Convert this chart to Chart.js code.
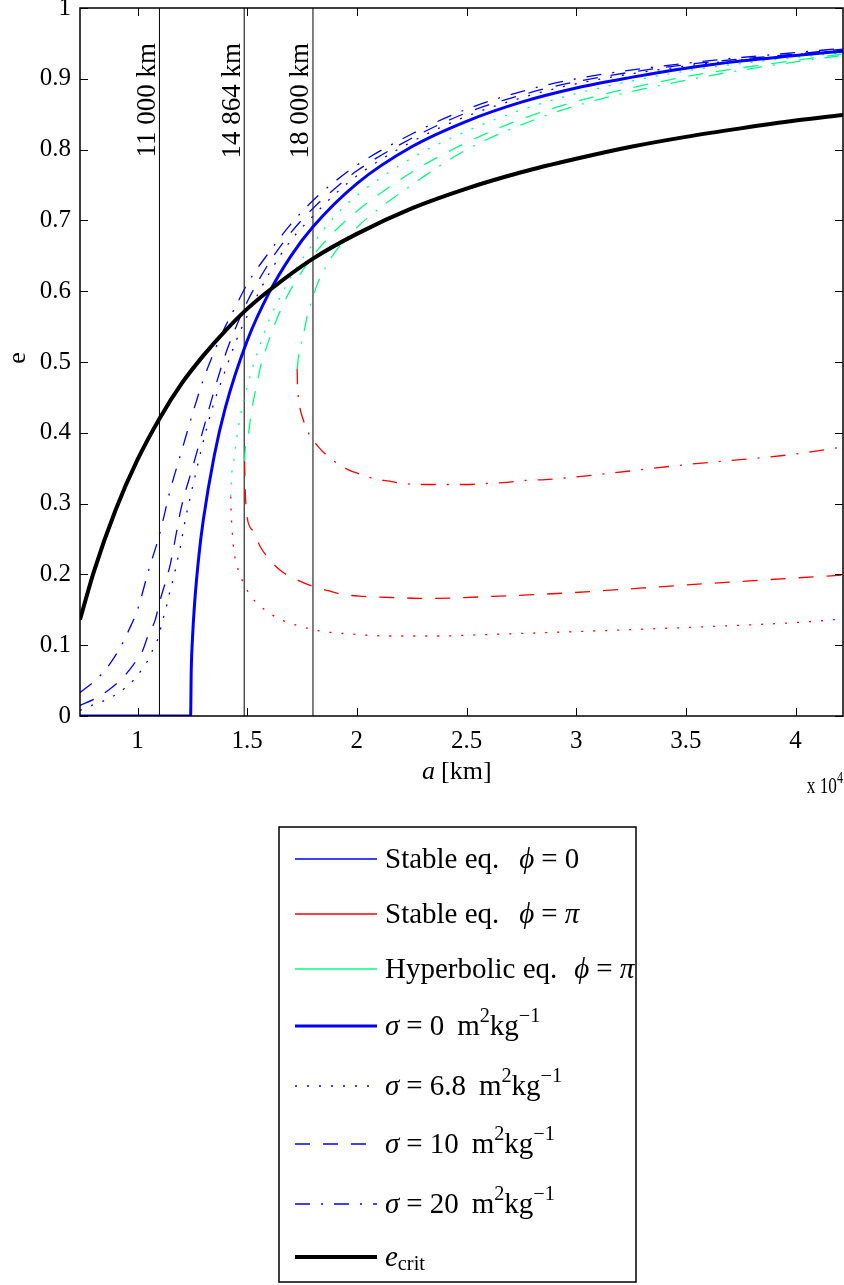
<!DOCTYPE html>
<html>
<head>
<meta charset="utf-8">
<script src="https://cdn.jsdelivr.net/npm/chart.js@4"></script>
<style>
html, body { margin: 0; padding: 0; background: #fff; }
canvas { display: block; }
</style>
</head>
<body>
<canvas id="chart" width="844" height="1285"></canvas>
<script>
// semi-major axis in units of 10^4 km, eccentricity e
var A_MIN = 0.7378, A_MAX = 4.2164;
var X_TICKS = [1, 1.5, 2, 2.5, 3, 3.5, 4];
var X_LABELS = ['1', '1.5', '2', '2.5', '3', '3.5', '4'];
var Y_TICKS = [0, 0.1, 0.2, 0.3, 0.4, 0.5, 0.6, 0.7, 0.8, 0.9, 1];
var Y_LABELS = ['0', '0.1', '0.2', '0.3', '0.4', '0.5', '0.6', '0.7', '0.8', '0.9', '1'];

var V_LINES = [1.1, 1.4864, 1.8];
var V_LABELS = ['11 000 km', '14 864 km', '18 000 km'];

// e_crit
var A_CRIT = [0.7378, 0.8, 0.9, 1.0, 1.1, 1.2, 1.3, 1.4, 1.5, 1.6, 1.8, 2.0, 2.25, 2.5, 2.75, 3.0, 3.25, 3.5, 3.75, 4.0, 4.2164];
var E_CRIT = [0.136, 0.203, 0.291, 0.362, 0.420, 0.469, 0.509, 0.544, 0.575, 0.601, 0.646, 0.681, 0.717, 0.745, 0.768, 0.787, 0.804, 0.818, 0.830, 0.841, 0.849];

// sigma = 0
var A_S0 = [0.7378, 1.242, 1.245, 1.25, 1.26, 1.28, 1.3, 1.35, 1.4, 1.5, 1.6, 1.7, 1.8, 2.0, 2.25, 2.5, 2.75, 3.0, 3.25, 3.5, 3.75, 4.0, 4.2164];
var E_S0 = [0, 0, 0.065, 0.106, 0.158, 0.227, 0.277, 0.368, 0.435, 0.530, 0.598, 0.650, 0.691, 0.752, 0.804, 0.840, 0.867, 0.887, 0.902, 0.915, 0.925, 0.933, 0.939];

// stable eq. phi = 0
var A_B68 = [0.7378, 0.8, 0.85, 0.9, 0.945, 0.986, 1.02, 1.05, 1.073, 1.096, 1.114, 1.13, 1.142, 1.156, 1.169, 1.182, 1.194, 1.204, 1.214, 1.238, 1.262, 1.288, 1.316, 1.346, 1.384, 1.45, 1.5, 1.6, 1.7, 1.8, 1.9, 2.0, 2.25, 2.5, 2.75, 3.0, 3.5, 4.0, 4.2164];
var E_B68 = [0.008, 0.016, 0.022, 0.030, 0.040, 0.052, 0.066, 0.080, 0.096, 0.112, 0.135, 0.152, 0.169, 0.185, 0.202, 0.220, 0.237, 0.254, 0.271, 0.306, 0.338, 0.373, 0.407, 0.440, 0.474, 0.530, 0.565, 0.625, 0.672, 0.706, 0.737, 0.763, 0.811, 0.847, 0.873, 0.893, 0.918, 0.934, 0.941];

var A_B10 = [0.7378, 0.81, 0.87, 0.93, 0.98, 1.02, 1.05, 1.08, 1.1, 1.15, 1.2, 1.25, 1.3, 1.35, 1.4, 1.45, 1.5, 1.6, 1.7, 1.8, 1.9, 2.0, 2.25, 2.5, 2.75, 3.0, 3.5, 4.0, 4.2164];
var E_B10 = [0.015, 0.025, 0.037, 0.053, 0.072, 0.090, 0.115, 0.135, 0.160, 0.215, 0.295, 0.350, 0.405, 0.460, 0.510, 0.550, 0.585, 0.640, 0.683, 0.717, 0.745, 0.770, 0.816, 0.852, 0.877, 0.896, 0.920, 0.935, 0.942];

var A_B20 = [0.7378, 0.81, 0.87, 0.92, 0.96, 1.0, 1.05, 1.1, 1.15, 1.2, 1.25, 1.3, 1.35, 1.4, 1.45, 1.5, 1.6, 1.7, 1.8, 1.9, 2.0, 2.25, 2.5, 2.75, 3.0, 3.5, 4.0, 4.2164];
var E_B20 = [0.033, 0.051, 0.072, 0.096, 0.121, 0.150, 0.205, 0.256, 0.320, 0.373, 0.426, 0.475, 0.515, 0.550, 0.580, 0.610, 0.655, 0.695, 0.728, 0.755, 0.778, 0.822, 0.857, 0.882, 0.900, 0.922, 0.937, 0.943];

// stable eq. phi = pi
var A_R68 = [1.425, 1.427, 1.43, 1.434, 1.439, 1.449, 1.465, 1.488, 1.517, 1.553, 1.598, 1.647, 1.697, 1.75, 1.80, 1.855, 1.963, 2.14, 2.37, 2.59, 2.98, 3.5, 4.0, 4.2164];
var E_R68 = [0.31, 0.286, 0.270, 0.252, 0.234, 0.218, 0.201, 0.185, 0.169, 0.157, 0.146, 0.137, 0.131, 0.126, 0.122, 0.119, 0.116, 0.113, 0.113, 0.115, 0.119, 0.125, 0.132, 0.137];

var A_R10 = [1.488, 1.49, 1.493, 1.50, 1.53, 1.56, 1.605, 1.658, 1.73, 1.80, 1.87, 1.93, 2.03, 2.2, 2.32, 2.47, 2.62, 2.78, 2.97, 3.5, 4.0, 4.2164];
var E_R10 = [0.36, 0.33, 0.305, 0.280, 0.260, 0.239, 0.220, 0.204, 0.192, 0.183, 0.177, 0.172, 0.169, 0.167, 0.166, 0.167, 0.169, 0.171, 0.174, 0.185, 0.195, 0.199];

var A_R20 = [1.728, 1.729, 1.733, 1.741, 1.756, 1.784, 1.82, 1.856, 1.91, 1.96, 2.01, 2.08, 2.14, 2.2, 2.28, 2.38, 2.5, 2.62, 2.68, 2.78, 2.86, 2.98, 3.5, 4.0, 4.2164];
var E_R20 = [0.49, 0.472, 0.451, 0.434, 0.418, 0.397, 0.382, 0.370, 0.357, 0.348, 0.342, 0.335, 0.332, 0.329, 0.327, 0.327, 0.327, 0.329, 0.330, 0.333, 0.334, 0.337, 0.355, 0.370, 0.380];

// hyperbolic eq. phi = pi
var A_G68 = [1.425, 1.428, 1.438, 1.453, 1.471, 1.499, 1.526, 1.563, 1.602, 1.651, 1.7, 1.8, 1.9, 2.0, 2.25, 2.5, 2.75, 3.0, 3.5, 4.0, 4.2164];
var E_G68 = [0.31, 0.335, 0.359, 0.394, 0.427, 0.463, 0.494, 0.528, 0.561, 0.592, 0.620, 0.667, 0.706, 0.735, 0.788, 0.826, 0.856, 0.879, 0.911, 0.930, 0.937];

var A_G10 = [1.488, 1.492, 1.506, 1.514, 1.529, 1.544, 1.559, 1.579, 1.605, 1.628, 1.659, 1.689, 1.75, 1.8, 1.9, 2.0, 2.25, 2.5, 2.75, 3.0, 3.5, 4.0, 4.2164];
var E_G10 = [0.36, 0.38, 0.399, 0.418, 0.446, 0.468, 0.491, 0.512, 0.536, 0.555, 0.578, 0.597, 0.628, 0.650, 0.685, 0.713, 0.768, 0.810, 0.843, 0.868, 0.903, 0.926, 0.935];

var A_G20 = [1.728, 1.734, 1.75, 1.762, 1.773, 1.796, 1.82, 1.86, 1.9, 2.0, 2.25, 2.5, 2.75, 3.0, 3.5, 4.0, 4.2164];
var E_G20 = [0.49, 0.508, 0.531, 0.547, 0.564, 0.588, 0.610, 0.635, 0.655, 0.690, 0.750, 0.800, 0.835, 0.862, 0.898, 0.924, 0.933];

var BLUE = '#0000ff', RED = '#ff0000', GREEN = '#00ff80', BLACK = '#000000';
var DOT = [2, 10], DASH = [15, 13], DASHDOT = [15, 11, 2, 11];
var THIN = 1.3;
var SERIF = '"Liberation Serif", "Times New Roman", serif';

function series(label, a, e, color, width, dash) {
    return {
        label: label,
        data: a.map(function (v, i) { return { x: v, y: e[i] }; }),
        borderColor: color,
        borderWidth: width,
        borderDash: dash || [],
        borderCapStyle: 'butt',
        pointRadius: 0,
        fill: false,
        cubicInterpolationMode: 'monotone'
    };
}

function vline(v) {
    return {
        label: 'vline',
        data: [{ x: v, y: 0 }, { x: v, y: 1 }],
        borderColor: BLACK,
        borderWidth: 1,
        pointRadius: 0,
        tension: 0,
        fill: false
    };
}

function sigmaRow(val) {
    return [{ t: 'σ', i: 1 }, { g: 7 }, { t: '=' }, { g: 7 }, { t: val }, { g: 13 }, { t: 'm' }, { t: '2', sup: 1 }, { t: 'kg' }, { t: '−1', sup: 1 }];
}

var LEGEND = [
    { color: BLUE, width: THIN, dash: [], segs: [{ t: 'Stable eq.' }, { g: 20 }, { t: 'ϕ', i: 1 }, { g: 7 }, { t: '=' }, { g: 7 }, { t: '0' }] },
    { color: RED, width: THIN, dash: [], segs: [{ t: 'Stable eq.' }, { g: 20 }, { t: 'ϕ', i: 1 }, { g: 7 }, { t: '=' }, { g: 7 }, { t: 'π', i: 1 }] },
    { color: GREEN, width: THIN, dash: [], segs: [{ t: 'Hyperbolic eq.' }, { g: 17 }, { t: 'ϕ', i: 1 }, { g: 7 }, { t: '=' }, { g: 7 }, { t: 'π', i: 1 }] },
    { color: BLUE, width: 3, dash: [], segs: sigmaRow('0') },
    { color: BLUE, width: THIN, dash: DOT, segs: sigmaRow('6.8') },
    { color: BLUE, width: THIN, dash: DASH, segs: sigmaRow('10') },
    { color: BLUE, width: THIN, dash: DASHDOT, segs: sigmaRow('20') },
    { color: BLACK, width: 4, dash: [], segs: [{ t: 'e', i: 1 }, { t: 'crit', sub: 1 }] }
];
var LEGEND_ROWS = [859, 914, 969, 1026, 1086, 1144, 1204, 1257];

function richWidth(ctx, segs, size) {
    var w = 0;
    segs.forEach(function (s) {
        if (s.g) { w += s.g; return; }
        var fs = (s.sup || s.sub) ? size * 0.7 : size;
        ctx.font = (s.i ? 'italic ' : '') + fs + 'px ' + SERIF;
        w += ctx.measureText(s.t).width;
    });
    return w;
}

function drawRich(ctx, x, y, segs, size) {
    segs.forEach(function (s) {
        if (s.g) { x += s.g; return; }
        var fs = size, dy = 0;
        if (s.sup) { fs = size * 0.7; dy = -size * 0.36; }
        if (s.sub) { fs = size * 0.7; dy = size * 0.24; }
        ctx.font = (s.i ? 'italic ' : '') + fs + 'px ' + SERIF;
        ctx.fillText(s.t, x, y + dy);
        x += ctx.measureText(s.t).width;
    });
    return x;
}

var framePlugin = {
    id: 'frame',
    afterDraw: function (chart) {
        var ctx = chart.ctx, area = chart.chartArea;
        var xs = chart.scales.x, ys = chart.scales.y;
        ctx.save();
        ctx.setLineDash([]);
        ctx.strokeStyle = BLACK;
        ctx.lineWidth = 1.5;
        ctx.strokeRect(area.left, area.top, area.right - area.left, area.bottom - area.top);

        ctx.lineWidth = 1;
        ctx.beginPath();
        X_TICKS.forEach(function (v) {
            var p = Math.round(xs.getPixelForValue(v)) + 0.5;
            ctx.moveTo(p, area.bottom); ctx.lineTo(p, area.bottom - 8);
            ctx.moveTo(p, area.top); ctx.lineTo(p, area.top + 8);
        });
        Y_TICKS.forEach(function (v) {
            var p = Math.round(ys.getPixelForValue(v)) + 0.5;
            ctx.moveTo(area.left, p); ctx.lineTo(area.left + 8, p);
            ctx.moveTo(area.right, p); ctx.lineTo(area.right - 8, p);
        });
        ctx.stroke();

        ctx.fillStyle = BLACK;
        ctx.font = '27px ' + SERIF;
        V_LINES.forEach(function (v, i) {
            var p = xs.getPixelForValue(v);
            ctx.save();
            ctx.translate(p - 4.5, 43);
            ctx.rotate(-Math.PI / 2);
            ctx.textAlign = 'right';
            ctx.textBaseline = 'alphabetic';
            ctx.fillText(V_LABELS[i], 0, 0);
            ctx.restore();
        });

        // axis titles
        ctx.textBaseline = 'middle';
        ctx.textAlign = 'left';
        drawRich(ctx, 422, 772, [{ t: 'a', i: 1 }, { g: 6 }, { t: '[km]' }], 26);
        var exp = [{ t: 'x 10' }, { t: '4', sup: 1 }];
        var squeeze = 0.72;
        ctx.save();
        ctx.translate(843 - richWidth(ctx, exp, 24) * squeeze, 787);
        ctx.scale(squeeze, 1);
        drawRich(ctx, 0, 0, exp, 24);
        ctx.restore();
        ctx.save();
        ctx.translate(18, 358);
        ctx.rotate(-Math.PI / 2);
        ctx.textAlign = 'center';
        ctx.font = '26px ' + SERIF;
        ctx.fillText('e', 0, 0);
        ctx.restore();

        // legend box
        ctx.lineWidth = 1.5;
        ctx.strokeStyle = BLACK;
        ctx.strokeRect(279, 827, 357, 455);
        LEGEND.forEach(function (item, i) {
            var y = LEGEND_ROWS[i];
            ctx.beginPath();
            ctx.strokeStyle = item.color;
            ctx.lineWidth = item.width;
            ctx.setLineDash(item.dash);
            ctx.lineCap = 'butt';
            ctx.moveTo(295, y);
            ctx.lineTo(377, y);
            ctx.stroke();
            ctx.setLineDash([]);
            ctx.fillStyle = BLACK;
            ctx.textAlign = 'left';
            ctx.textBaseline = 'middle';
            drawRich(ctx, 385, y + 1, item.segs, 29);
        });
        ctx.restore();
    }
};

new Chart(document.getElementById('chart'), {
    type: 'line',
    data: {
        datasets: [
            series('e_crit', A_CRIT, E_CRIT, BLACK, 4),
            series('sigma 0', A_S0, E_S0, BLUE, 3),
            series('hyp 6.8', A_G68, E_G68, GREEN, THIN, DOT),
            series('hyp 10', A_G10, E_G10, GREEN, THIN, DASH),
            series('hyp 20', A_G20, E_G20, GREEN, THIN, DASHDOT),
            series('stable pi 6.8', A_R68, E_R68, RED, THIN, DOT),
            series('stable pi 10', A_R10, E_R10, RED, THIN, DASH),
            series('stable pi 20', A_R20, E_R20, RED, THIN, DASHDOT),
            series('stable 0 6.8', A_B68, E_B68, BLUE, THIN, DOT),
            series('stable 0 10', A_B10, E_B10, BLUE, THIN, DASH),
            series('stable 0 20', A_B20, E_B20, BLUE, THIN, DASHDOT),
            vline(V_LINES[0]),
            vline(V_LINES[1]),
            vline(V_LINES[2])
        ]
    },
    options: {
        responsive: false,
        animation: false,
        events: [],
        layout: { padding: { left: 0, right: 1, top: 8, bottom: 0 } },
        plugins: {
            legend: { display: false },
            tooltip: { enabled: false }
        },
        scales: {
            x: {
                type: 'linear',
                min: A_MIN,
                max: A_MAX,
                grid: { display: false, drawTicks: false },
                border: { display: false },
                afterFit: function (scale) {
                    scale.height = 1285 - 716;
                    scale.paddingLeft = 0;
                    scale.paddingRight = 0;
                },
                afterBuildTicks: function (scale) {
                    scale.ticks = X_TICKS.map(function (v) { return { value: v }; });
                },
                ticks: {
                    color: BLACK,
                    padding: 10,
                    maxRotation: 0,
                    autoSkip: false,
                    font: { family: SERIF, size: 25 },
                    callback: function (v) { return X_LABELS[X_TICKS.indexOf(v)]; }
                }
            },
            y: {
                min: 0,
                max: 1,
                grid: { display: false, drawTicks: false },
                border: { display: false },
                afterFit: function (scale) {
                    scale.width = 80;
                    scale.paddingTop = 0;
                    scale.paddingBottom = 0;
                },
                afterBuildTicks: function (scale) {
                    scale.ticks = Y_TICKS.map(function (v) { return { value: v }; });
                },
                ticks: {
                    color: BLACK,
                    padding: 9,
                    autoSkip: false,
                    font: { family: SERIF, size: 25 },
                    callback: function (v) { return Y_LABELS[Y_TICKS.indexOf(v)]; }
                }
            }
        }
    },
    plugins: [framePlugin]
});
</script>
</body>
</html>
